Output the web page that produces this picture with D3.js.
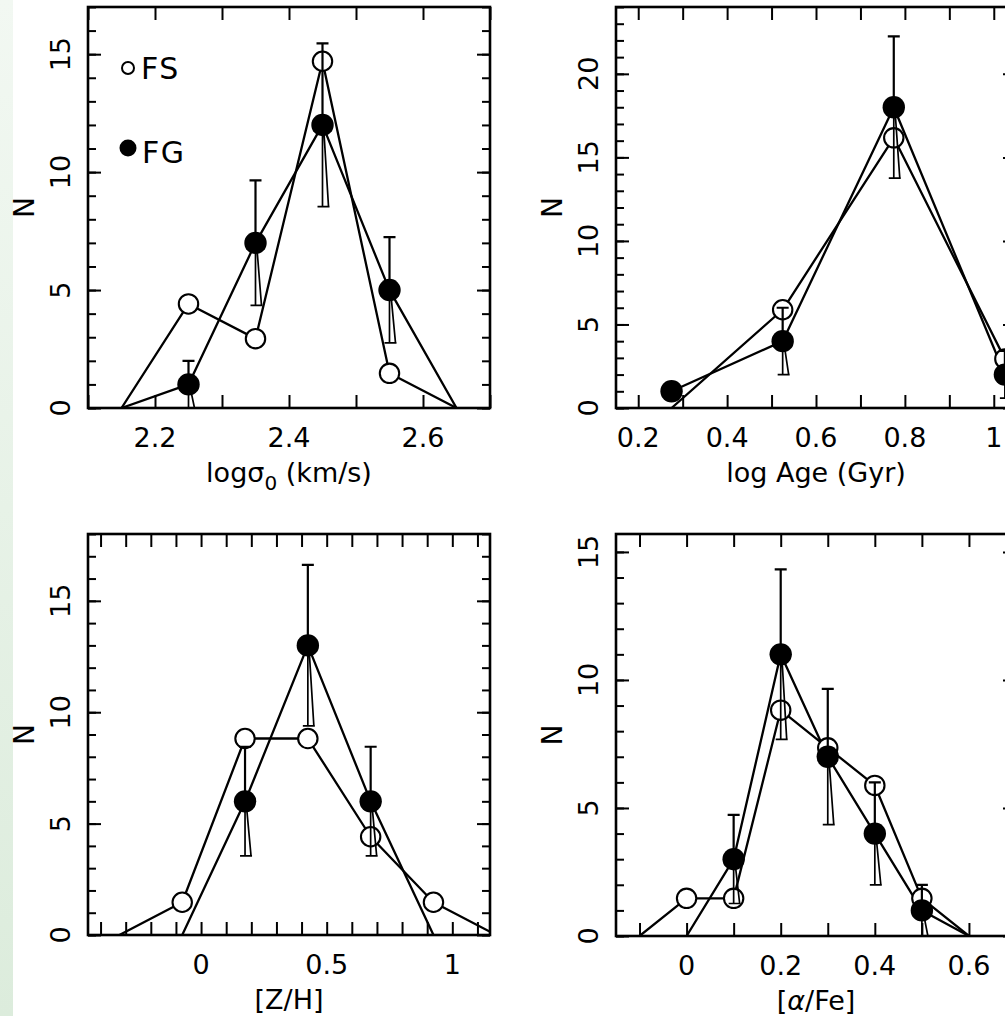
<!DOCTYPE html>
<html>
<head>
<meta charset="utf-8">
<script src="https://cdn.jsdelivr.net/npm/d3@7"></script>
<style>
  body { margin: 0; background: #fff; }
  svg { display: block; }
  text { font-family: "DejaVu Sans", "Liberation Sans", sans-serif; fill: #000; }
</style>
</head>
<body>
<svg id="chart" width="1005" height="1016"></svg>
<script>
// ---- velocity dispersion histogram ----
const sigmaBins  = [2.15, 2.25, 2.35, 2.45, 2.55, 2.65];
const sigmaFS    = [0, 4.41, 2.94, 14.7, 1.47, 0];
const sigmaFG    = [0, 1, 7, 12, 5, 0];
const sigmaFGerr = [null, 1, 2.65, 3.46, 2.24, null];
const sigmaXTicks  = [2.1, 2.2, 2.3, 2.4, 2.5, 2.6, 2.7];
const sigmaXLabels = [2.2, 2.4, 2.6];
const sigmaYLabels = [0, 5, 10, 15];

// ---- age histogram ----
const ageBins  = [0.275, 0.525, 0.775, 1.025, 1.275];
const ageFS    = [0, 5.88, 16.17, 2.94, 0];
const ageFG    = [1, 4, 18, 2, 0];
const ageFGerr = [null, 2, 4.24, 1.41, null];
const ageXTicks  = [0.2, 0.3, 0.4, 0.5, 0.6, 0.7, 0.8, 0.9, 1.0];
const ageXLabels = [0.2, 0.4, 0.6, 0.8, 1];
const ageYLabels = [0, 5, 10, 15, 20];

// ---- metallicity histogram ----
const zhBins  = [-0.325, -0.075, 0.175, 0.425, 0.675, 0.925, 1.175];
const zhFS    = [0, 1.47, 8.82, 8.82, 4.41, 1.47, 0];
const zhFG    = [null, 0, 6, 13, 6, 0, null];
const zhFGerr = [null, null, 2.45, 3.61, 2.45, null, null];
const zhXTicks  = [-0.4, -0.3, -0.2, -0.1, 0, 0.1, 0.2, 0.3, 0.4, 0.5, 0.6, 0.7, 0.8, 0.9, 1.0, 1.1];
const zhXLabels = [0, 0.5, 1];
const zhYLabels = [0, 5, 10, 15];

// ---- alpha-enhancement histogram ----
const afeBins  = [-0.1, 0, 0.1, 0.2, 0.3, 0.4, 0.5, 0.6];
const afeFS    = [0, 1.47, 1.47, 8.82, 7.35, 5.88, 1.47, 0];
const afeFG    = [null, 0, 3, 11, 7, 4, 1, 0];
const afeFGerr = [null, null, 1.73, 3.32, 2.65, 2, 1, null];
const afeXTicks  = [-0.1, 0, 0.1, 0.2, 0.3, 0.4, 0.5, 0.6];
const afeXLabels = [0, 0.2, 0.4, 0.6];
const afeYLabels = [0, 5, 10, 15];

// panel layout
const panels = [
  { bins: sigmaBins, fs: sigmaFS, fg: sigmaFG, err: sigmaFGerr,
    xDomain: [2.1, 2.7], yMax: 17, xTicks: sigmaXTicks, xLabels: sigmaXLabels, yLabels: sigmaYLabels,
    left: 88, top: 7, w: 402, h: 401, title: "sigma", legend: true },
  { bins: ageBins, fs: ageFS, fg: ageFG, err: ageFGerr,
    xDomain: [0.15, 1.05], yMax: 24, xTicks: ageXTicks, xLabels: ageXLabels, yLabels: ageYLabels,
    left: 616, top: 7, w: 400, h: 401, title: "log Age (Gyr)" },
  { bins: zhBins, fs: zhFS, fg: zhFG, err: zhFGerr,
    xDomain: [-0.45, 1.15], yMax: 18, xTicks: zhXTicks, xLabels: zhXLabels, yLabels: zhYLabels,
    left: 88, top: 534, w: 402, h: 401, title: "[Z/H]" },
  { bins: afeBins, fs: afeFS, fg: afeFG, err: afeFGerr,
    xDomain: [-0.15, 0.7], yMax: 15.7, xTicks: afeXTicks, xLabels: afeXLabels, yLabels: afeYLabels,
    left: 616, top: 534, w: 400, h: 402, title: "alpha" }
];

const svg = d3.select("#chart");
const defs = svg.append("defs");

// page background with the faint green strip along the left edge
const grad = defs.append("linearGradient").attr("id", "edgeGrad")
  .attr("x1", 0).attr("y1", 0).attr("x2", 0).attr("y2", 1);
grad.append("stop").attr("offset", "0%").attr("stop-color", "#f2f8f2");
grad.append("stop").attr("offset", "100%").attr("stop-color", "#dcecdc");
svg.append("rect").attr("width", 1005).attr("height", 1016).attr("fill", "#fff");
svg.append("rect").attr("width", 13).attr("height", 1016).attr("fill", "url(#edgeGrad)");

const FONT = 27;
const LW = 2.3;

panels.forEach((p, i) => {
  const x = d3.scaleLinear().domain(p.xDomain).range([0, p.w]);
  const y = d3.scaleLinear().domain([0, p.yMax]).range([p.h, 0]);
  const g = svg.append("g").attr("transform", `translate(${p.left},${p.top})`);

  const clipId = "plotClip" + i;
  defs.append("clipPath").attr("id", clipId)
    .append("rect").attr("width", p.w).attr("height", p.h);

  // inward ticks on all four sides
  const tickG = g.append("g");
  const addTicks = (axis, tx, ty) => {
    const a = tickG.append("g").attr("transform", `translate(${tx},${ty})`).call(axis);
    a.select(".domain").remove();
    a.selectAll("text").remove();
    a.selectAll("line").attr("stroke", "#000").attr("stroke-width", 2);
  };
  const yMinor = d3.range(0, Math.floor(p.yMax) + 1);
  const yMajor = yMinor.filter(v => v % 5 === 0);
  addTicks(d3.axisBottom(x).tickValues(p.xTicks).tickSize(-13), 0, p.h);
  addTicks(d3.axisTop(x).tickValues(p.xTicks).tickSize(-13), 0, 0);
  addTicks(d3.axisLeft(y).tickValues(yMinor).tickSize(-8), 0, 0);
  addTicks(d3.axisLeft(y).tickValues(yMajor).tickSize(-13), 0, 0);
  addTicks(d3.axisRight(y).tickValues(yMinor).tickSize(-8), p.w, 0);
  addTicks(d3.axisRight(y).tickValues(yMajor).tickSize(-13), p.w, 0);

  // frame
  g.append("rect").attr("width", p.w).attr("height", p.h)
    .attr("fill", "none").attr("stroke", "#000").attr("stroke-width", 2.6);

  // tick labels
  g.selectAll(".xl").data(p.xLabels).join("text")
    .attr("x", d => x(d)).attr("y", p.h + 39)
    .attr("text-anchor", "middle").attr("font-size", FONT)
    .text(d => String(d));
  g.selectAll(".yl").data(p.yLabels).join("text")
    .attr("transform", d => `translate(-28,${y(d)}) rotate(-90)`)
    .attr("text-anchor", "middle").attr("dominant-baseline", "central")
    .attr("font-size", FONT)
    .text(d => String(d));

  // axis titles
  g.append("text")
    .attr("transform", `translate(-64,${p.h / 2}) rotate(-90)`)
    .attr("text-anchor", "middle").attr("dominant-baseline", "central")
    .attr("font-size", 28).text("N");
  const xt = g.append("text").attr("x", p.w / 2).attr("y", p.h + 74)
    .attr("text-anchor", "middle").attr("font-size", FONT);
  if (p.title === "sigma") {
    xt.append("tspan").text("logσ");
    xt.append("tspan").attr("font-size", 20).attr("dy", 8).text("0");
    xt.append("tspan").attr("dy", -8).text(" (km/s)");
  } else if (p.title === "alpha") {
    xt.append("tspan").text("[");
    xt.append("tspan").attr("font-style", "italic").text("α");
    xt.append("tspan").text("/Fe]");
  } else {
    xt.text(p.title);
  }

  // data
  const fsPts = p.bins.map((b, k) => ({ b, v: p.fs[k] }));
  const fgPts = p.bins.map((b, k) => ({ b, v: p.fg[k], e: p.err[k] }));
  const line = d3.line().defined(d => d.v !== null).x(d => x(d.b)).y(d => y(d.v));

  const plot = g.append("g").attr("clip-path", `url(#${clipId})`);
  plot.append("path").datum(fsPts).attr("d", line)
    .attr("fill", "none").attr("stroke", "#000").attr("stroke-width", LW).attr("stroke-linejoin", "round");
  plot.append("path").datum(fgPts).attr("d", line)
    .attr("fill", "none").attr("stroke", "#000").attr("stroke-width", LW).attr("stroke-linejoin", "round");

  const marks = g.append("g");
  marks.selectAll(".fs").data(fsPts.filter(d => d.v > 0)).join("circle")
    .attr("cx", d => x(d.b)).attr("cy", d => y(d.v)).attr("r", 9.7)
    .attr("fill", "#fff").attr("stroke", "#000").attr("stroke-width", 2.1);
  marks.selectAll(".fg").data(fgPts.filter(d => d.v > 0)).join("circle")
    .attr("cx", d => x(d.b)).attr("cy", d => y(d.v)).attr("r", 11.2)
    .attr("fill", "#000");

  // Poisson error bars on the FG counts
  const eb = marks.selectAll(".eb").data(fgPts.filter(d => d.e !== null && d.v > 0)).join("g")
    .attr("stroke", "#000").attr("fill", "none");
  eb.append("path").attr("stroke-width", 2.2)
    .attr("d", d => {
      const cx = x(d.b), cy = y(d.v), t = y(d.v + d.e);
      return `M${cx},${cy}V${t}M${cx - 6},${t}H${cx + 6}`;
    });
  eb.append("path").attr("stroke-width", 1.7)
    .attr("d", d => {
      const cx = x(d.b), cy = y(d.v), bt = y(Math.max(0, d.v - d.e));
      return `M${cx},${cy}V${bt}M${cx + 1},${cy}L${cx + 6},${bt}M${cx - 5},${bt}H${cx + 7}`;
    });

  // legend
  if (p.legend) {
    g.append("circle").attr("cx", 40).attr("cy", 61).attr("r", 6)
      .attr("fill", "none").attr("stroke", "#000").attr("stroke-width", 2);
    g.append("text").attr("x", 53).attr("y", 72).attr("font-size", 30)
      .attr("letter-spacing", 1.5).text("FS");
    g.append("circle").attr("cx", 40).attr("cy", 141).attr("r", 8.5).attr("fill", "#000");
    g.append("text").attr("x", 54).attr("y", 156).attr("font-size", 30)
      .attr("letter-spacing", 1.5).text("FG");
  }
});
</script>
</body>
</html>
